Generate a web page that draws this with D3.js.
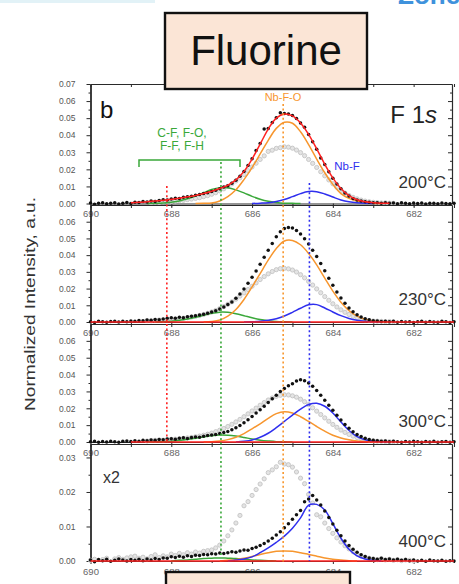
<!DOCTYPE html>
<html>
<head>
<meta charset="utf-8">
<script src="https://cdn.jsdelivr.net/npm/d3@7"></script>
<style>
  html, body { margin: 0; padding: 0; background: #fff; overflow: hidden; }
  text { font-family: "Liberation Sans", Arial, sans-serif; }
</style>
</head>
<body>
<svg id="fig" width="459" height="584"></svg>
<script>
// ---------------- data ----------------
// binding-energy sampling of the measured spectra (eV)
const energy = [
  690.0,689.9,689.8,689.7,689.6,689.5,689.4,689.3,689.2,689.1,
  689.0,688.9,688.8,688.7,688.6,688.5,688.4,688.3,688.2,688.1,
  688.0,687.9,687.8,687.7,687.6,687.5,687.4,687.3,687.2,687.1,
  687.0,686.9,686.8,686.7,686.6,686.5,686.4,686.3,686.2,686.1,
  686.0,685.9,685.8,685.7,685.6,685.5,685.4,685.3,685.2,685.1,
  685.0,684.9,684.8,684.7,684.6,684.5,684.4,684.3,684.2,684.1,
  684.0,683.9,683.8,683.7,683.6,683.5,683.4,683.3,683.2,683.1,
  683.0,682.9,682.8,682.7,682.6,682.5,682.4,682.3,682.2,682.1,
  682.0,681.9,681.8,681.7,681.6,681.5,681.4,681.3,681.2,681.1,
  681.0
];

// measured F 1s intensity (black points), one array per anneal temperature
const measured200 = [
  0.0003,-0.0004,0.0002,0.0005,-0.0002,0.0001,0.0004,-0.0003,0.0002,0.0006,
  0.0000,0.0008,0.0006,0.0011,0.0009,0.0014,0.0012,0.0018,0.0022,0.0020,
  0.0027,0.0031,0.0029,0.0036,0.0040,0.0043,0.0048,0.0052,0.0058,0.0063,
  0.0070,0.0077,0.0086,0.0096,0.0104,0.0118,0.0136,0.0160,0.0187,0.0222,
  0.0262,0.0310,0.0352,0.0436,0.0440,0.0475,0.0503,0.0532,0.0527,0.0525,
  0.0516,0.0498,0.0472,0.0447,0.0404,0.0362,0.0318,0.0266,0.0228,0.0186,
  0.0148,0.0114,0.0086,0.0062,0.0044,0.0030,0.0021,0.0014,0.0010,0.0007,
  0.0005,0.0004,0.0002,0.0005,0.0001,0.0003,-0.0002,0.0004,0.0001,-0.0001,
  0.0003,0.0000,0.0003,-0.0003,0.0002,0.0001,-0.0002,0.0003,0.0000,-0.0001,
  0.0002
];
const measured230 = [
  0.0002,-0.0003,0.0004,0.0001,-0.0002,0.0003,0.0005,0.0000,0.0004,0.0002,
  0.0006,0.0005,0.0009,0.0007,0.0012,0.0010,0.0015,0.0013,0.0018,0.0022,
  0.0025,0.0023,0.0028,0.0026,0.0031,0.0035,0.0038,0.0042,0.0047,0.0052,
  0.0060,0.0068,0.0078,0.0090,0.0104,0.0120,0.0142,0.0168,0.0198,0.0232,
  0.0268,0.0305,0.0345,0.0388,0.0430,0.0470,0.0510,0.0540,0.0560,0.0566,
  0.0562,0.0548,0.0526,0.0498,0.0466,0.0430,0.0392,0.0350,0.0306,0.0262,
  0.0220,0.0180,0.0144,0.0112,0.0084,0.0062,0.0044,0.0030,0.0020,0.0013,
  0.0008,0.0006,0.0003,0.0005,0.0001,0.0004,-0.0002,0.0003,0.0000,0.0002,
  -0.0003,0.0002,0.0004,-0.0001,0.0003,0.0000,-0.0002,0.0004,0.0001,-0.0003,
  0.0002
];
const measured300 = [
  0.0001,0.0004,-0.0002,0.0003,0.0000,0.0005,0.0002,-0.0001,0.0004,0.0006,
  0.0003,0.0007,0.0005,0.0010,0.0008,0.0012,0.0011,0.0015,0.0013,0.0018,
  0.0020,0.0017,0.0022,0.0025,0.0021,0.0027,0.0030,0.0028,0.0034,0.0038,
  0.0041,0.0045,0.0050,0.0056,0.0063,0.0072,0.0084,0.0098,0.0114,0.0132,
  0.0152,0.0172,0.0192,0.0212,0.0234,0.0256,0.0278,0.0300,0.0318,0.0333,
  0.0346,0.0362,0.0370,0.0364,0.0350,0.0330,0.0306,0.0278,0.0248,0.0218,
  0.0188,0.0158,0.0130,0.0104,0.0081,0.0061,0.0045,0.0032,0.0022,0.0015,
  0.0010,0.0007,0.0004,0.0006,0.0002,0.0005,0.0001,-0.0002,0.0003,0.0000,
  0.0004,0.0001,-0.0002,0.0003,0.0000,0.0004,-0.0001,0.0002,0.0003,-0.0002,
  0.0001
];
const measured400 = [
  0.0003,-0.0002,0.0004,0.0001,0.0005,-0.0001,0.0002,0.0006,0.0003,0.0000,
  0.0004,0.0002,0.0005,0.0001,0.0006,0.0003,0.0007,0.0004,0.0009,0.0008,
  0.0012,0.0010,0.0014,0.0011,0.0015,0.0013,0.0017,0.0016,0.0019,0.0018,
  0.0021,0.0020,0.0023,0.0022,0.0024,0.0027,0.0025,0.0029,0.0032,0.0031,
  0.0036,0.0040,0.0045,0.0051,0.0058,0.0066,0.0075,0.0085,0.0096,0.0108,
  0.0121,0.0134,0.0146,0.0172,0.0180,0.0190,0.0177,0.0162,0.0145,0.0126,
  0.0107,0.0089,0.0073,0.0058,0.0045,0.0034,0.0025,0.0018,0.0013,0.0009,
  0.0007,0.0005,0.0008,0.0004,0.0006,0.0003,0.0005,0.0002,0.0004,0.0001,
  0.0003,0.0000,0.0002,-0.0001,0.0003,0.0001,0.0000,0.0002,-0.0001,0.0001,
  0.0000
];

// reference spectrum (grey points), null where not plotted
const reference200 = [
  null,null,null,null,null,null,null,null,null,null,
  null,null,null,null,null,0.0005,0.0008,0.0006,0.0010,0.0012,
  0.0011,0.0014,0.0017,0.0019,0.0023,0.0026,0.0030,0.0034,0.0040,0.0046,
  0.0054,0.0063,0.0074,0.0086,0.0100,0.0115,0.0132,0.0150,0.0170,0.0192,
  0.0214,0.0236,0.0258,0.0279,0.0305,0.0312,0.0323,0.0327,0.0332,0.0330,
  0.0324,0.0313,0.0298,0.0280,0.0258,0.0235,0.0211,0.0186,0.0162,0.0138,
  0.0116,0.0095,0.0077,0.0061,0.0047,0.0036,0.0027,0.0020,0.0014,0.0010,
  0.0007,0.0005,0.0003,0.0004,0.0002,0.0001,null,null,null,null,
  null,null,null,null,null,null,null,null,null,null,
  null
];
const reference230 = [
  null,null,null,null,null,null,null,null,null,null,
  null,null,null,null,0.0008,0.0007,0.0010,0.0012,0.0011,0.0014,
  0.0016,0.0018,0.0020,0.0023,0.0026,0.0030,0.0034,0.0039,0.0045,0.0052,
  0.0060,0.0069,0.0080,0.0092,0.0106,0.0121,0.0137,0.0155,0.0174,0.0194,
  0.0214,0.0234,0.0254,0.0272,0.0288,0.0302,0.0313,0.0319,0.0321,0.0318,
  0.0311,0.0299,0.0283,0.0264,0.0243,0.0221,0.0198,0.0175,0.0152,0.0130,
  0.0109,0.0090,0.0073,0.0058,0.0045,0.0034,0.0025,0.0018,0.0013,0.0009,
  0.0006,0.0005,0.0004,0.0002,0.0003,0.0001,null,null,null,null,
  null,null,null,null,null,null,null,null,null,null,
  null
];
const reference300 = [
  null,null,null,null,null,null,null,null,null,null,
  null,null,null,null,0.0006,0.0009,0.0010,0.0012,0.0011,0.0014,
  0.0016,0.0017,0.0019,0.0022,0.0024,0.0027,0.0031,0.0035,0.0040,0.0046,
  0.0053,0.0061,0.0070,0.0080,0.0092,0.0105,0.0119,0.0134,0.0150,0.0167,
  0.0184,0.0201,0.0218,0.0234,0.0249,0.0261,0.0271,0.0277,0.0280,0.0279,
  0.0274,0.0266,0.0254,0.0239,0.0222,0.0203,0.0183,0.0163,0.0143,0.0123,
  0.0104,0.0087,0.0071,0.0057,0.0045,0.0035,0.0026,0.0019,0.0014,0.0010,
  0.0007,0.0005,0.0004,0.0003,0.0002,0.0001,null,null,null,null,
  null,null,null,null,null,null,null,null,null,null,
  null
];
const reference400 = [
  0.0002,0.0005,null,0.0004,0.0008,null,0.0006,0.0010,0.0005,0.0009,
  0.0012,0.0014,0.0008,0.0011,0.0006,0.0013,0.0018,0.0010,0.0015,0.0012,
  0.0020,0.0016,0.0022,0.0018,0.0024,0.0020,0.0026,0.0023,0.0028,0.0030,
  0.0032,0.0038,0.0046,0.0058,0.0073,0.0090,0.0110,0.0132,0.0160,0.0172,
  0.0190,0.0207,0.0223,0.0238,0.0256,0.0264,0.0273,0.0286,0.0281,0.0279,
  0.0272,0.0258,0.0240,0.0224,0.0193,0.0168,0.0134,0.0128,0.0110,0.0094,
  0.0080,0.0067,0.0055,0.0044,0.0035,0.0027,0.0020,0.0015,0.0011,0.0008,
  0.0006,0.0004,0.0007,0.0003,0.0005,0.0002,0.0004,0.0001,0.0003,0.0002,
  0.0000,null,null,null,null,null,null,null,null,null,
  null
];

// sampling of the fitted peak components (eV)
const fitEnergy = [
  690.0,689.8,689.6,689.4,689.2,
  689.0,688.8,688.6,688.4,688.2,
  688.0,687.8,687.6,687.4,687.2,
  687.0,686.8,686.6,686.4,686.2,
  686.0,685.8,685.6,685.4,685.2,
  685.0,684.8,684.6,684.4,684.2,
  684.0,683.8,683.6,683.4,683.2,
  683.0,682.8,682.6,682.4,682.2,
  682.0,681.8,681.6,681.4,681.2,
  681.0
];

// 200 °C fit: C-F/F-O/F-F/F-H (green), Nb-F-O (orange), Nb-F (blue), envelope (red)
const fitGreen200 = [
  0,0,0,0,0, 0,0,0,0.0001,0.0003, 0.0008,0.0015,0.0028,0.0044,0.0063,
  0.0082,0.0093,0.0092,0.0080,0.0062, 0.0042,0.0025,0.0013,0.0006,0.0002,
  0.0001,0,0,0,0, 0,0,0,0,0, 0,0,0,0,0, 0,0,0,0,0, 0
];
const fitOrange200 = [
  0,0,0,0,0, 0,0,0,0,0, 0,0,0,0,0.0001,
  0.0003,0.0015,0.0040,0.0080,0.0140, 0.0210,0.0290,0.0370,0.0440,0.0476,
  0.0470,0.0420,0.0345,0.0260,0.0180, 0.0112,0.0058,0.0030,0.0014,0.0006,
  0.0002,0,0,0,0, 0,0,0,0,0, 0
];
const fitBlue200 = [
  0,0,0,0,0, 0,0,0,0,0, 0,0,0,0,0, 0,0,0,0,0,
  0,0.0002,0.0005,0.0012,0.0023, 0.0040,0.0058,0.0070,0.0069,0.0056,
  0.0038,0.0021,0.0010,0.0004,0.0001, 0,0,0,0,0, 0,0,0,0,0, 0
];
const fitRed200 = [
  null,null,null,null,null, 0.0004,0.0007,0.0010,0.0014,0.0019,
  0.0025,0.0031,0.0039,0.0047,0.0058, 0.0072,0.0088,0.0107,0.0138,0.0188,
  0.0260,0.0348,0.0436,0.0500,0.0524, 0.0513,0.0472,0.0405,0.0320,0.0230,
  0.0150,0.0088,0.0046,0.0022,0.0010, 0.0005,0.0002,0.0001,null,null,
  null,null,null,null,null, null
];

const fitGreen230 = [
  0,0,0,0,0, 0,0,0,0,0.0002, 0.0005,0.0010,0.0018,0.0028,0.0040,
  0.0052,0.0059,0.0058,0.0050,0.0038, 0.0025,0.0015,0.0008,0.0003,0.0001,
  0,0,0,0,0, 0,0,0,0,0, 0,0,0,0,0, 0,0,0,0,0, 0
];
const fitOrange230 = [
  0,0,0,0,0, 0,0,0,0,0, 0,0,0,0,0,
  0.0003,0.0012,0.0035,0.0075,0.0135, 0.0210,0.0290,0.0370,0.0440,0.0485,
  0.0488,0.0462,0.0410,0.0342,0.0262, 0.0185,0.0118,0.0068,0.0035,0.0016,
  0.0006,0.0002,0,0,0, 0,0,0,0,0, 0
];
const fitBlue230 = [
  0,0,0,0,0, 0,0,0,0,0, 0,0,0,0,0, 0,0,0,0,0,
  0.0001,0.0004,0.0010,0.0020,0.0036, 0.0058,0.0082,0.0103,0.0104,0.0084,
  0.0060,0.0038,0.0021,0.0010,0.0004, 0.0001,0,0,0,0, 0,0,0,0,0, 0
];
const fitRed230 = [
  0,0,0,0,0, 0,0,0,0,0, 0,0,0,0,0, 0,0,0,0,0, 0,0,0,0,0,
  0,0,0,0,0, 0,0,0,0,0, 0,0,0,0,0, 0,0,0,0,0, 0
];

const fitGreen300 = [
  0,0,0,0,0, 0,0,0,0.0001,0.0002, 0.0005,0.0009,0.0015,0.0022,0.0030,
  0.0037,0.0041,0.0040,0.0035,0.0027, 0.0018,0.0011,0.0006,0.0002,0.0001,
  0,0,0,0,0, 0,0,0,0,0, 0,0,0,0,0, 0,0,0,0,0, 0
];
const fitOrange300 = [
  0,0,0,0,0, 0,0,0,0,0, 0,0,0,0,0,
  0.0002,0.0006,0.0014,0.0028,0.0050, 0.0078,0.0108,0.0140,0.0168,0.0180,
  0.0172,0.0150,0.0122,0.0092,0.0064, 0.0040,0.0024,0.0013,0.0006,0.0003,
  0.0001,0,0,0,0, 0,0,0,0,0, 0
];
const fitBlue300 = [
  0,0,0,0,0, 0,0,0,0,0, 0,0,0,0,0, 0,0,0,0,0.0004,
  0.0012,0.0028,0.0052,0.0085,0.0122, 0.0160,0.0195,0.0222,0.0230,0.0212,
  0.0172,0.0118,0.0068,0.0032,0.0013, 0.0005,0.0002,0,0,0, 0,0,0,0,0, 0
];
const fitRed300 = [
  null,null,null,null,null, 0,0,0,0,0, 0,0,0,0,0, 0,0,0,0,0, 0,0,0,0,0,
  0,0,0,0,0, 0,0,0,0,0, 0,0,0,0,0, 0,0,0,0,0, 0
];

const fitGreen400 = [
  0,0,0,0,0, 0,0,0,0,0, 0,0.0002,0.0003,0.0005,0.0007,
  0.0008,0.0009,0.0008,0.0007,0.0005, 0.0003,0.0002,0.0001,0,0,
  0,0,0,0,0, 0,0,0,0,0, 0,0,0,0,0, 0,0,0,0,0, 0
];
const fitOrange400 = [
  0,0,0,0,0, 0,0,0,0,0, 0,0,0,0,0,
  0,0,0.0002,0.0004,0.0008, 0.0013,0.0019,0.0024,0.0028,0.0029,
  0.0028,0.0024,0.0019,0.0014,0.0009, 0.0005,0.0003,0.0001,0,0,
  0,0,0,0,0, 0,0,0,0,0, 0
];
const fitBlue400 = [
  0,0,0,0,0, 0,0,0,0,0, 0,0,0,0,0,
  0,0,0,0.0003,0.0006, 0.0012,0.0024,0.0038,0.0054,0.0072,
  0.0095,0.0125,0.0162,0.0164,0.0148, 0.0108,0.0066,0.0034,0.0015,0.0006,
  0.0002,0,0,0,0, 0,0,0,0,0, 0
];
const fitRed400 = [
  0,0,0,0,0, 0,0,0,0,0, 0,0,0,0,0, 0,0,0,0,0, 0,0,0,0,0,
  0,0,0,0,0, 0,0,0,0,0, 0,0,0,0,0, 0,0,0,0,0, 0
];

// panel labels and axis ticks
const temperatures = ["200°C", "230°C", "300°C", "400°C"];
const xTicks = [690, 688, 686, 684, 682];
const xMinorTicks = [689, 687, 685, 683, 681];
const yTicksFull = [0, 0.01, 0.02, 0.03, 0.04, 0.05, 0.06, 0.07];
const yTicksStacked = [0, 0.01, 0.02, 0.03, 0.04, 0.05, 0.06];
const yTicksX2 = [0, 0.01, 0.02, 0.03];

// component peak positions (dotted guides), eV
const guideEnergy = [688.11, 686.77, 685.23, 684.58];

// ---------------- layout ----------------
const svg = d3.select("#fig");
const COL = {
  green: "#3aa83a", orange: "#f7962e", blue: "#2f2fee", red: "#ff2020",
  grey: "#c4c4c4", black: "#111", axis: "#2a2a2a", tick: "#555"
};
const x = d3.scaleLinear().domain([690, 681.05]).range([90.5, 452]);

const panels = [
  { top: 84,  base: 203.5, max: 0.07,  ticks: yTicksFull,    data: measured200, ref: reference200,
    green: fitGreen200, orange: fitOrange200, blue: fitBlue200, red: fitRed200 },
  { top: 205, base: 322,   max: 0.07,  ticks: yTicksStacked, data: measured230, ref: reference230,
    green: fitGreen230, orange: fitOrange230, blue: fitBlue230, red: fitRed230 },
  { top: 324, base: 442,   max: 0.07,  ticks: yTicksStacked, data: measured300, ref: reference300,
    green: fitGreen300, orange: fitOrange300, blue: fitBlue300, red: fitRed300 },
  { top: 444, base: 561,   max: 0.0339, ticks: yTicksX2,     data: measured400, ref: reference400,
    green: fitGreen400, orange: fitOrange400, blue: fitBlue400, red: fitRed400 }
];
const tempBaseline = [188, 305, 427, 547];

// faint page remnants at the top edge
svg.append("rect").attr("x", 0).attr("y", 0).attr("width", 155).attr("height", 3).attr("fill", "#e2f2f7");
svg.append("text").attr("x", 398).attr("y", 4).attr("font-size", 26).attr("font-weight", "bold")
  .attr("fill", "#3f92dc").text("Zone");

// keeps only the span where a fitted component is non-zero, plus one sample each side
function trimmed(values) {
  const pts = fitEnergy.map((e, i) => ({ e, v: values[i] })).filter(p => p.v !== null);
  const allZero = pts.every(p => p.v === 0);
  if (allZero) return pts;
  let a = pts.findIndex(p => p.v > 0), b = pts.length - 1;
  while (b > 0 && !(pts[b].v > 0)) b--;
  return pts.slice(Math.max(0, a - 1), Math.min(pts.length, b + 2));
}

panels.forEach((p, k) => {
  const y = d3.scaleLinear().domain([0, p.max]).range([p.base, p.top]);
  const g = svg.append("g");

  const minor = d3.range(0, p.ticks.length * 2 - 1).map(i => i * 0.005)
    .filter(v => v <= p.max + 1e-9 && !p.ticks.includes(+v.toFixed(3)));

  // left axis: outward ticks with labels
  const left = g.append("g").attr("transform", `translate(${x.range()[0]},0)`)
    .call(d3.axisLeft(y).tickValues(p.ticks).tickFormat(d3.format(".2f")).tickSize(4).tickPadding(11).tickSizeOuter(0));
  left.select(".domain").attr("stroke", COL.axis).attr("stroke-width", 1.8);
  left.selectAll(".tick line").attr("stroke", COL.axis).attr("stroke-width", 1);
  left.selectAll("text").attr("font-size", 8.5).attr("fill", COL.tick).attr("font-family", "Liberation Sans, Arial, sans-serif");
  g.append("g").attr("transform", `translate(${x.range()[0]},0)`)
    .call(d3.axisLeft(y).tickValues(minor).tickSize(2).tickFormat("").tickSizeOuter(0))
    .call(s => s.select(".domain").remove())
    .selectAll("line").attr("stroke", COL.axis);

  // right axis: inward ticks, no labels
  const right = g.append("g").attr("transform", `translate(${x.range()[1]},0)`)
    .call(d3.axisLeft(y).tickValues(p.ticks).tickSize(4).tickFormat("").tickSizeOuter(0));
  right.select(".domain").attr("stroke", COL.axis).attr("stroke-width", 1.2);
  right.selectAll("line").attr("stroke", COL.axis);
  g.append("g").attr("transform", `translate(${x.range()[1]},0)`)
    .call(d3.axisLeft(y).tickValues(minor).tickSize(2).tickFormat("").tickSizeOuter(0))
    .call(s => s.select(".domain").remove())
    .selectAll("line").attr("stroke", COL.axis);

  // bottom axis with energy labels
  const bottom = g.append("g").attr("transform", `translate(0,${p.base})`)
    .call(d3.axisBottom(x).tickValues(xTicks).tickFormat(d3.format("d")).tickSize(3).tickPadding(4).tickSizeOuter(0));
  bottom.select(".domain").attr("stroke", COL.axis).attr("stroke-width", 1.2);
  bottom.selectAll("line").attr("stroke", COL.axis);
  bottom.selectAll("text").attr("font-size", 9.5).attr("fill", "#666").attr("font-family", "Liberation Sans, Arial, sans-serif");
  g.append("g").attr("transform", `translate(0,${p.base})`)
    .call(d3.axisBottom(x).tickValues(xMinorTicks).tickSize(2).tickFormat("").tickSizeOuter(0))
    .call(s => s.select(".domain").remove())
    .selectAll("line").attr("stroke", COL.axis);

  // top axis: inward ticks
  const top = g.append("g").attr("transform", `translate(0,${p.top})`)
    .call(d3.axisBottom(x).tickValues(xTicks.concat(xMinorTicks)).tickSize(3).tickFormat("").tickSizeOuter(0));
  top.select(".domain").attr("stroke", COL.axis).attr("stroke-width", 1.2);
  top.selectAll("line").attr("stroke", COL.axis);

  // reference spectrum
  const refPts = energy.map((e, i) => ({ e, v: p.ref[i] })).filter(d => d.v !== null);
  g.append("g").selectAll("circle").data(refPts).join("circle")
    .attr("cx", d => x(d.e)).attr("cy", d => y(d.v)).attr("r", 2.1)
    .attr("fill", "#e4e4e4").attr("stroke", COL.grey).attr("stroke-width", 0.9);

  // fitted components
  const line = d3.line().x(d => x(d.e)).y(d => y(d.v)).curve(d3.curveCatmullRom);
  [["green", COL.green], ["orange", COL.orange], ["blue", COL.blue]].forEach(([key, c]) => {
    g.append("path").datum(trimmed(p[key])).attr("d", line)
      .attr("fill", "none").attr("stroke", c).attr("stroke-width", 1.5);
  });

  // measured points
  const pts = energy.map((e, i) => ({ e, v: p.data[i] }));
  g.append("g").selectAll("circle").data(pts).join("circle")
    .attr("cx", d => x(d.e)).attr("cy", d => y(d.v)).attr("r", 1.75).attr("fill", COL.black);

  // envelope / baseline
  g.append("path").datum(trimmed(p.red)).attr("d", line)
    .attr("fill", "none").attr("stroke", COL.red).attr("stroke-width", 1.5);

  // temperature label
  g.append("text").attr("x", 446).attr("y", tempBaseline[k]).attr("text-anchor", "end")
    .attr("font-size", 17).attr("fill", "#333").text(temperatures[k]);
});

// dotted guide lines at the component positions (top and bottom pixel extents)
const guideColors = [COL.red, COL.green, COL.orange, COL.blue];
const guideSpan = [[186, 442], [162, 556], [104, 563], [183, 561]];
svg.append("g").selectAll("line").data(guideEnergy).join("line")
  .attr("x1", d => x(d)).attr("x2", d => x(d))
  .attr("y1", (d, i) => guideSpan[i][0]).attr("y2", (d, i) => guideSpan[i][1])
  .attr("stroke", (d, i) => guideColors[i]).attr("stroke-width", 1.6)
  .attr("stroke-dasharray", "2,2.6");

// annotations in the top panel
svg.append("text").attr("x", 100).attr("y", 118).attr("font-size", 24).attr("fill", "#111").text("b");
const f1s = svg.append("text").attr("x", 437).attr("y", 123).attr("text-anchor", "end")
  .attr("font-size", 24).attr("fill", "#222");
f1s.append("tspan").text("F 1");
f1s.append("tspan").attr("font-style", "italic").text("s");
svg.append("text").attr("x", 283).attr("y", 101).attr("text-anchor", "middle")
  .attr("font-size", 11).attr("fill", COL.orange).text("Nb-F-O");
svg.append("text").attr("x", 347).attr("y", 170).attr("text-anchor", "middle")
  .attr("font-size", 11.5).attr("fill", COL.blue).text("Nb-F");
svg.append("text").attr("x", 182).attr("y", 137).attr("text-anchor", "middle")
  .attr("font-size", 12).attr("fill", COL.green).text("C-F, F-O,");
svg.append("text").attr("x", 182).attr("y", 150).attr("text-anchor", "middle")
  .attr("font-size", 12).attr("fill", COL.green).text("F-F, F-H");
svg.append("path").attr("d", "M139,167 V160 H240 V167")
  .attr("fill", "none").attr("stroke", COL.green).attr("stroke-width", 1.5);

svg.append("text").attr("x", 103).attr("y", 483).attr("font-size", 16).attr("fill", "#333").text("x2");

// y axis title
svg.append("text").attr("transform", "translate(35,304) rotate(-90)")
  .attr("text-anchor", "middle").attr("font-size", 15).attr("fill", "#333")
  .attr("textLength", 214).attr("lengthAdjust", "spacingAndGlyphs")
  .text("Normalized Intensity, a.u.");

// element title box and the box below the figure
svg.append("rect").attr("x", 165).attr("y", 13).attr("width", 202).attr("height", 76)
  .attr("fill", "#fbe5d6").attr("stroke", "#111").attr("stroke-width", 2.4);
svg.append("text").attr("x", 266).attr("y", 65).attr("text-anchor", "middle")
  .attr("font-family", "Lato, 'Open Sans', sans-serif").attr("font-size", 42).attr("fill", "#111")
  .text("Fluorine");
svg.append("rect").attr("x", 166).attr("y", 572).attr("width", 184).attr("height", 20)
  .attr("fill", "#fbe5d6").attr("stroke", "#111").attr("stroke-width", 2.4);
</script>
</body>
</html>
